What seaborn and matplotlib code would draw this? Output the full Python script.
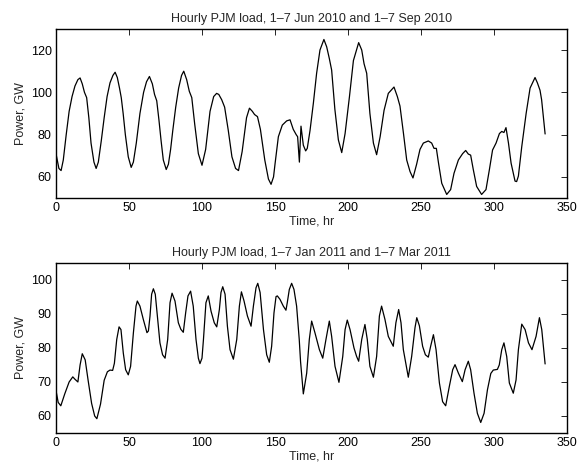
import matplotlib
matplotlib.use("Agg")
import matplotlib.pyplot as plt
import seaborn as sns
import pandas as pd

# ---- data (hour, GW) ----
t_top = [0, 2, 3.5, 5, 7, 9, 11, 13, 15, 16.5, 18, 19.5, 21, 22.5, 24, 26, 27.5, 29, 31, 33, 35, 37, 39,
         40.5, 42, 43.5, 44.7, 46, 47.5, 49.5, 51.5, 53, 55, 57.5, 60, 62, 64, 66, 67.5, 69, 70.5, 72,
         73.5, 75.5, 77, 78.5, 80, 82, 84, 86, 87.5, 89.5, 91.3, 93, 95, 97.5, 100, 102.5, 105.5, 108,
         110, 111.5, 113.5, 115.5, 118, 120.5, 123, 125, 127.5, 130.5, 132.5, 134.5, 136, 138, 140, 143,
         145.5, 147.3, 149, 150, 152.3, 155, 158, 160.3, 162.5, 164.5, 165.5, 166.7, 167.8, 169.4, 171,
         172.1, 174, 176.3, 178.5, 180.8, 183.5, 185.4, 187.2, 188.8, 191, 193.4, 195.7, 198, 201,
         203.7, 207.3, 209.4, 211, 212.8, 215, 217.4, 219.6, 222, 224.7, 227.6, 231.5, 233.8, 235.6,
         238, 240.2, 242.5, 244.5, 247, 249.3, 251.6, 255, 257.3, 258.9, 260.5, 262, 264.2, 267.6,
         270.3, 272.6, 275.6, 278.5, 280.6, 282.4, 284, 285.8, 288.1, 291.5, 294.5, 296.8, 299, 301.4,
         303.7, 305.3, 306.8, 308.2, 309.9, 311.7, 314.4, 315.5, 316.7, 319, 322, 324.7, 328.1, 329.7,
         331.5, 332.6, 333.8, 335]
p_top = [71, 64, 63, 68, 80, 91, 98, 103, 106, 106.8, 104, 100, 97.5, 88, 76, 67, 64, 67, 77, 88, 98,
         104.5, 108, 109.5, 107, 102, 97.5, 90, 80, 69.5, 64.5, 67, 76, 90, 100, 105, 107.5, 104, 99,
         96, 87, 77, 68, 63.5, 66, 73, 82, 93, 102, 108, 110, 106, 100.5, 97.5, 85, 71, 65.5, 73, 91,
         98, 99.5, 99, 96.5, 93, 82, 69.5, 64, 63, 72, 88, 92.5, 91, 89.5, 88.5, 82.5, 68, 59, 56.5,
         60, 66, 79, 84.5, 86.5, 87, 82.5, 80, 79, 67, 84, 75, 72.3, 73.5, 82, 95, 109, 120, 125,
         121.5, 116, 110.5, 92, 77.5, 71.5, 80.5, 98, 115, 123.5, 120, 113.5, 109, 90, 76, 70.5, 79,
         91.5, 99.5, 102.5, 98, 93.5, 80.5, 68, 62.5, 59.5, 66, 73, 76, 77, 76, 73.5, 73.5, 66.5, 57,
         51.7, 54, 61.7, 68, 71, 72.5, 70.8, 70.3, 63.5, 55.5, 51.7, 54, 63.3, 72.7, 76, 80.5, 81.5, 81,
         83.3, 76, 66.5, 58, 57.8, 60.4, 74.3, 90, 102, 107, 104.5, 101, 96.5, 88.5, 80.3]

t_bot = [0, 1.5, 3.3, 6, 9, 11.5, 13, 15, 16.5, 18, 20, 22, 24.4, 26.5, 28, 30.5, 33, 35.2, 37, 38.8,
         40, 41.6, 43.2, 44.5, 46.1, 47.7, 49.5, 51.1, 53, 54.8, 55.7, 57.5, 59.8, 62.3, 63.3, 64.4,
         65.5, 66.7, 68, 69.4, 71.2, 73, 74.7, 76.5, 78.1, 79.5, 81.5, 83.8, 85.5, 87.2, 88.8, 90.4,
         92.2, 94, 95.9, 97.5, 98.6, 100, 101, 102.7, 104.3, 106.2, 108.4, 110.1, 111.9, 113, 114.2,
         115.8, 117.4, 119.2, 121.5, 123.8, 125.6, 127, 128.8, 131.1, 133.6, 135.2, 137, 138.2, 139.8,
         142.1, 144.3, 146.1, 147.7, 149.3, 150.7, 151.6, 153.4, 155.7, 157.5, 158.4, 159.8, 161.4,
         163, 164.8, 166.6, 167.5, 169.4, 171.7, 173.5, 175.1, 177.4, 180.4, 182.7, 184.9, 187.2,
         188.8, 191.1, 193.8, 196.4, 198, 199.5, 201.4, 204.1, 205.9, 207.3, 209.4, 211.6, 213.2, 215,
         217.4, 219.6, 221.5, 223, 225.3, 227.6, 231, 232.8, 234.7, 236.3, 237.9, 241.3, 243.6, 245.9,
         247.1, 248.9, 251.1, 253, 255, 256.6, 258.5, 260.3, 262.6, 264.8, 266.9, 269.4, 271.7, 273.3,
         275.6, 278.3, 280.2, 282.4, 284, 286.3, 288.6, 290.9, 293.2, 295.5, 297.8, 299.5, 302.3,
         303.6, 305.3, 306.8, 308.7, 310.5, 313.2, 315.1, 316.7, 319, 321.3, 323.6, 326, 328.8, 331.1,
         332.7, 335]
p_bot = [67.5, 64, 63, 66.5, 70, 71.5, 70.8, 70, 75, 78.3, 76.5, 70.5, 63.7, 60, 59.2, 63.5, 70.5, 73,
         73.5, 73.4, 75.5, 82.5, 86.2, 85.4, 78.5, 73.6, 72.1, 74.6, 84.4, 92.3, 93.8, 92.3, 88.4, 84.5,
         85, 89.4, 95.8, 97.4, 95.8, 89.4, 81.5, 78, 77, 82.5, 93.3, 96.1, 93.8, 87.4, 85.5, 84.6, 90.3,
         95.3, 96.7, 92.3, 82.5, 77, 75.4, 77, 82.5, 93.3, 95.3, 90.8, 87.4, 86.2, 91.3, 96.3, 98, 95.8,
         86.4, 79.5, 76.7, 82.5, 92.3, 96.5, 93.8, 89.4, 86.4, 92.3, 97.7, 99, 96.3, 85.4, 78, 75.8,
         80.5, 90.3, 95.1, 95.3, 94.3, 92.3, 91.1, 93.3, 97.2, 99, 97.2, 92.3, 82.5, 76, 66.5, 72.6,
         82.5, 87.9, 84.4, 79.5, 77, 82.5, 87.9, 83.4, 74.6, 69.9, 77.5, 85.4, 88.2, 85.4, 80, 77.5,
         76.1, 82.5, 86.9, 82.5, 74.6, 71.4, 77.5, 89.4, 92.3, 88.4, 83.4, 80.5, 87.4, 91.3, 87.4, 79.5,
         71.4, 77.5, 86, 88.9, 86.5, 80.5, 78, 77.3, 80.5, 83.9, 79.5, 69.7, 64.2, 63, 68.7, 73.6, 75.1,
         72.6, 70.1, 73.6, 76.1, 73.6, 66.7, 60.8, 58.1, 60.8, 67.7, 72.5, 73.5, 73.7, 75, 79.5, 81.5,
         77.5, 69.7, 66.7, 70.6, 79.5, 87, 85.4, 81.5, 79.5, 83.4, 88.9, 85.4, 75.3]

title_top = "Hourly PJM load, 1\u20137 Jun 2010 and 1\u20137 Sep 2010"
title_bot = "Hourly PJM load, 1\u20137 Jan 2011 and 1\u20137 Mar 2011"
x_ticks = [0, 50, 100, 150, 200, 250, 300, 350]
y_ticks_top = [60, 80, 100, 120]
y_ticks_bot = [60, 70, 80, 90, 100]

sns.set_style("white")
plt.rcParams["font.family"] = ["Liberation Sans", "DejaVu Sans"]
plt.rcParams["font.size"] = 9

fig = plt.figure(figsize=(5.79, 4.66), dpi=100)
ax1 = fig.add_axes([0.0967, 0.575, 0.8826, 0.363])
ax2 = fig.add_axes([0.0967, 0.0708, 0.8826, 0.365])

df_top = pd.DataFrame({"t": t_top, "p": p_top})
df_bot = pd.DataFrame({"t": t_bot, "p": p_bot})

for ax, df, title, ylim, yt in [
    (ax1, df_top, title_top, (50, 130), y_ticks_top),
    (ax2, df_bot, title_bot, (55, 105), y_ticks_bot),
]:
    sns.lineplot(data=df, x="t", y="p", ax=ax, color="black", linewidth=0.9,
                 estimator=None, sort=False)
    ax.set_xlim(0, 350)
    ax.set_ylim(*ylim)
    ax.set_xticks(x_ticks)
    ax.set_yticks(yt)
    ax.set_title(title, fontsize=9, pad=5)
    ax.set_xlabel("Time, hr", fontsize=9, labelpad=1)
    ax.set_ylabel("Power, GW", fontsize=9, labelpad=3)
    ax.tick_params(direction="in", length=4, width=0.6, top=True, right=True,
                   labelsize=9, pad=3, colors="black")
    for s in ax.spines.values():
        s.set_visible(True)
        s.set_color("black")
        s.set_linewidth(1.0)

fig.savefig("out.png", dpi=100)
